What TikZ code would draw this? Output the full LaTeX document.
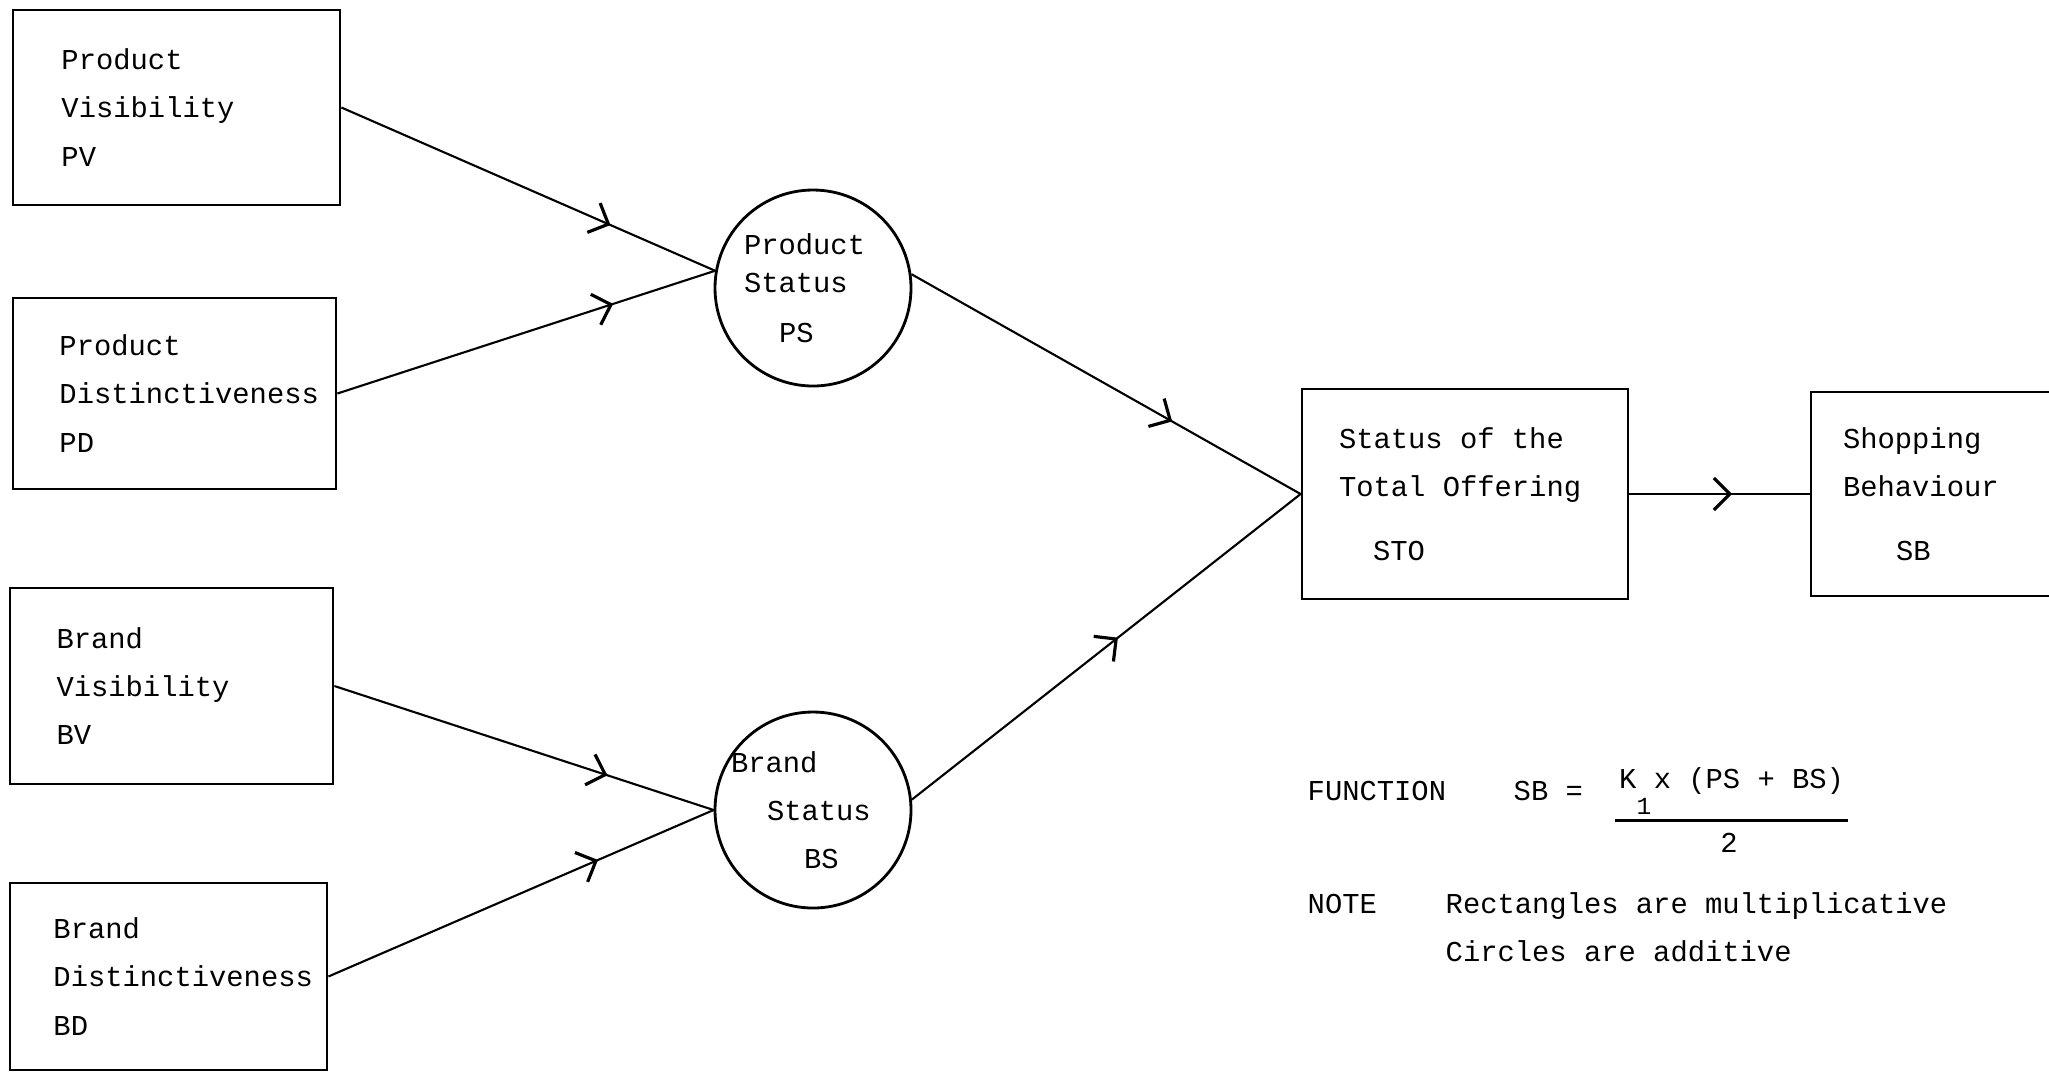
\documentclass[tikz,border=0pt]{standalone}
\usepackage{fontspec}
\setmonofont{Liberation Mono}
\usetikzlibrary{arrows.meta, decorations.markings}
\hyphenpenalty=10000
\newcommand\typewriterfont{\ttfamily\fontsize{8.2}{13.7}\selectfont}

\begin{document}
\begin{tikzpicture}[
    every node/.style={font=\typewriterfont},
    factor/.style={draw, rectangle, line width=0.8pt, align=flush left, text width=2.3cm},
    status/.style={draw, circle, line width=0.8pt, minimum size=1.96cm, inner sep=-0.25cm, align=flush left},
    link/.style={line width=0.6pt},
    midarrow/.style={postaction={decorate}, decoration={markings,
        mark=at position #1 with {\arrow{Straight Barb[length=1.6mm, width=3.2mm, line width=0.9pt]}}}},
    txt/.style={anchor=west, inner xsep=0pt}
]
    \useasboundingbox (0,0) rectangle (20.49,-10.73);

    % Draw nodes
    \node[factor, minimum width=3.27cm, minimum height=1.95cm] (PV) at (1.765,-1.075) {Product\\Visibility\\PV};
    \node[factor, minimum width=3.23cm, minimum height=1.91cm] (PD) at (1.745,-3.935) {Product\\Distinctiveness\\PD};
    \node[factor, minimum width=3.23cm, minimum height=1.96cm] (BV) at (1.715,-6.86) {Brand\\Visibility\\BV};
    \node[factor, minimum width=3.17cm, minimum height=1.87cm] (BD) at (1.685,-9.765) {Brand\\Distinctiveness\\BD};

    \node[status, text width=1.38cm] (PS) at (8.13,-2.88) {Product\\[-2.9pt]Status\\[0.6pt]\hspace*{0.35cm}PS};
    \node[status, text width=1.64cm] (BS) at (8.13,-8.10) {Brand\\\hspace*{0.36cm}Status\\\hspace*{0.73cm}BS};

    \node[factor, text width=2.52cm, minimum width=3.26cm, minimum height=2.10cm] (STO) at (14.65,-4.94) {Status of the\\Total Offering\\[4.5pt]\hspace*{0.34cm}STO};
    \node[factor, text width=1.96cm, minimum width=2.6cm, minimum height=2.04cm] (SB) at (19.41,-4.94) {Shopping\\Behaviour\\[4.5pt]\hspace*{0.53cm}SB};

    % Draw connections
    \draw[link, midarrow=0.72] (PV.east) -- (PS.170);
    \draw[link, midarrow=0.73] (PD.east) -- (PS.170);
    \draw[link, midarrow=0.72] (BV.east) -- (BS.west);
    \draw[link, midarrow=0.70] (BD.east) -- (BS.west);
    \draw[link, midarrow=0.67] (PS.8) -- (STO.west);
    \draw[link, midarrow=0.53] (BS.6) -- (STO.west);
    \draw[link, midarrow=0.57] (STO.east) -- (SB.west);

    % Function and note
    \node[txt] (fn) at (13.07,-7.91) {FUNCTION};
    \node[txt] (sbeq) at (15.13,-7.91) {SB =};
    \node[txt, inner xsep=1pt, inner ysep=1.5pt] (num) at (16.15,-7.91) {K\rlap{\raisebox{-1.7ex}{\fontsize{7}{7}\selectfont 1}} x (PS + BS)};
    \draw[line width=0.9pt] (num.south west) -- (num.south east);
    \node (den) at (17.29,-8.43) {2};
    \node[txt] (note) at (13.07,-9.04) {NOTE};
    \node[txt, align=left] (notetext) at (14.45,-9.275) {Rectangles are multiplicative\\Circles are additive};
\end{tikzpicture}
\end{document}
